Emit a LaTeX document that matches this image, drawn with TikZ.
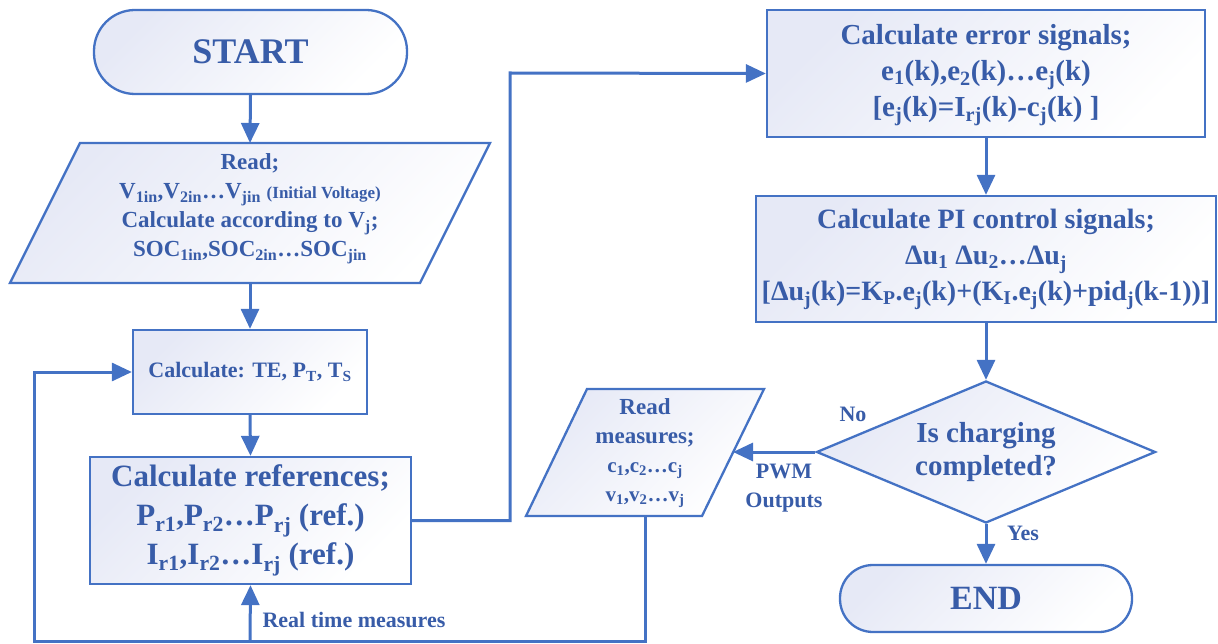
\documentclass[tikz,border=0pt]{standalone}
\usepackage{fontspec}
\setmainfont{Liberation Serif}
\usetikzlibrary{arrows.meta,shapes.geometric}
\definecolor{lc}{RGB}{68,114,196}
\definecolor{tc}{RGB}{56,92,168}
\definecolor{lav}{RGB}{230,233,246}
\newcommand\ssub[1]{\textsubscript{#1}}
\newcommand\fs[2]{\fontsize{#1}{#2}\selectfont}
\begin{document}
\begin{tikzpicture}[x=1pt,y=-1pt,
 every node/.style={text=tc, font=\bfseries},
 shape fill/.style={draw=lc, line width=2.3pt, top color=lav, bottom color=white, shading angle=45},
 box/.style={shape fill, rectangle, inner sep=0pt},
 conn/.style={draw=lc, line width=3pt, -{Triangle[length=20pt,width=18pt]}},
]
\useasboundingbox (0,0) rectangle (1218,644);

% START
\node[box, rounded corners=41pt, minimum width=313pt, minimum height=84pt, font=\bfseries\fs{36}{40}] (start) at (250.5,52) {START};

% Read parallelogram
\path[shape fill] (80,143) -- (490,143) -- (420,283) -- (10,283) -- cycle;
\coordinate (rdT) at (250,143);
\coordinate (rdB) at (250,283);
\node[align=center, font=\bfseries\fs{23}{29}] (rd) at (250,209) {Read;\\ V\ssub{1in},V\ssub{2in}…V\ssub{jin} {\fs{17}{29}(Initial Voltage)}\\ Calculate according to V\ssub{j};\\ SOC\ssub{1in},SOC\ssub{2in}…SOC\ssub{jin}};

% Calc TE
\node[box, minimum width=234pt, minimum height=84pt, font=\bfseries\fs{22}{26}] (te) at (250,372) {Calculate: TE, P\ssub{T}, T\ssub{S}};

% Calc references
\node[box, minimum width=321pt, minimum height=127pt, align=center, font=\bfseries\fs{31}{39}] (ref) at (250.5,520.5) {Calculate references;\\ P\ssub{r1},P\ssub{r2}…P\ssub{rj} (ref.)\\ I\ssub{r1},I\ssub{r2}…I\ssub{rj} (ref.)};

% Error signals
\node[box, minimum width=438pt, minimum height=127pt, align=center, font=\bfseries\fs{29}{36}] (err) at (986,73.5) {};
\node[align=center, font=\bfseries\fs{29}{36}] (errt) at (986,75) {Calculate error signals;\\ e\ssub{1}(k),e\ssub{2}(k)…e\ssub{j}(k)\\ {[}e\ssub{j}(k)=I\ssub{rj}(k)-c\ssub{j}(k) {]}};

% PI control
\node[box, minimum width=460pt, minimum height=126pt, align=center, font=\bfseries\fs{28}{36}] (pi) at (986,259) {Calculate PI control signals;\\ Δu\ssub{1} Δu\ssub{2}…Δu\ssub{j}\\ {[}Δu\ssub{j}(k)=K\ssub{P}.e\ssub{j}(k)+(K\ssub{I}.e\ssub{j}(k)+pid\ssub{j}(k-1)){]}};

% Decision
\node[diamond, shape fill, inner sep=0pt, aspect=2.4, minimum width=339pt, minimum height=142pt, align=center, font=\bfseries\fs{29}{33}] (dec) at (986,452) {Is charging\\ completed?};

% END
\node[box, rounded corners=33pt, minimum width=292pt, minimum height=67pt, font=\bfseries\fs{34}{38}] (end) at (986,598.5) {END};

% Read measures parallelogram
\path[shape fill] (587,389) -- (764,389) -- (702,516) -- (526,516) -- cycle;
\coordinate (rmR) at (733,452);
\coordinate (rmB) at (645,516);
\node[align=center, font=\bfseries\fs{23}{29}] (rm) at (645,453) {Read\\ measures;\\ {\fs{21}{29}c\ssub{1},c\ssub{2}…c\ssub{j}}\\ {\fs{21}{29}v\ssub{1},v\ssub{2}…v\ssub{j}}};

% loop coordinates
\coordinate (j1) at (510,73);
\coordinate (cL) at (34,641.5);
\coordinate (cM) at (250,641.5);

% connectors
\draw[conn] (start.south) -- (rdT);
\draw[conn] (rdB) -- (te.north);
\draw[conn] (te.south) -- (ref.north);
\draw[conn] (ref.east) -| (j1) -- (err.west);
\draw[conn] (err.south) -- (pi.north);
\draw[conn] (pi.south) -- (dec.north);
\draw[conn] (dec.west) -- (rmR);
\draw[conn] (dec.south) -- (end.north);
\draw[conn] (rmB) |- (cL) |- (te.west);
\draw[conn] (cM) -- (ref.south);

% labels
\node[anchor=west, font=\bfseries\fs{22}{26}] (rtm) at (259,620) {Real time measures};
\node[font=\bfseries\fs{22}{26}] (no) at (853,414) {No};
\node[align=center, font=\bfseries\fs{22}{29}] (pwm) at (784,488) {PWM\\ Outputs};
\node[font=\bfseries\fs{22}{26}] (yes) at (1023,533) {Yes};
\end{tikzpicture}
\end{document}
